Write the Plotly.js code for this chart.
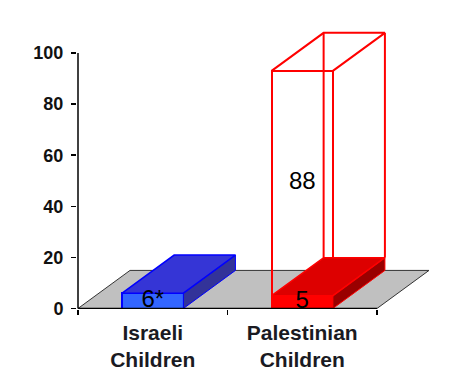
<!DOCTYPE html>
<html>
<head>
<meta charset="utf-8">
<script src="https://cdn.plot.ly/plotly-3.0.1.min.js"></script>
<style>html,body{margin:0;padding:0;background:#fff;}#chart{width:450px;height:390px;}</style>
</head>
<body>
<div id="chart"></div>
<script>
// ---- data ----
var categories = ['Israeli<br>Children', 'Palestinian<br>Children'];
var solidValues = [6, 5];          // filled lower segment
var outlineValues = [null, 88];    // hollow upper segment
var solidLabels = ['6*', '5'];
var outlineLabels = ['', '88'];
var yTickVals = [0, 20, 40, 60, 80, 100];

// ---- style / geometry constants ----
var catPos = [0, 1];
var barW = 0.41;
var dx = 0.348, dy = 14.9;   // projected depth offset
var frontColors = ['#3366FF', '#FF0000'];
var topColors = ['#3535D6', '#DD0000'];
var sideColors = ['#333399', '#990000'];
var edgeColors = ['#0000FF', '#FF0000'];

var traces = [];
// front faces
traces.push({type:'bar', x:catPos, y:solidValues, width:barW,
  marker:{color:frontColors, line:{color:edgeColors, width:1.5}},
  hoverinfo:'skip', showlegend:false});
traces.push({type:'bar', x:catPos, y:outlineValues, width:barW,
  marker:{color:'rgba(0,0,0,0)', line:{color:'#FF0000', width:2}},
  hoverinfo:'skip', showlegend:false});

// 3D top and side faces for the solid segments
catPos.forEach(function(c, i){
  var l = c - barW/2, r = c + barW/2, t = solidValues[i], b = 0;
  traces.push({type:'scatter', mode:'lines', fill:'toself',
    x:[r, r, r+dx, r+dx, r], y:[b, t, t+dy, b+dy, b],
    fillcolor:sideColors[i], line:{color:edgeColors[i], width:1},
    hoverinfo:'skip', showlegend:false});
  traces.push({type:'scatter', mode:'lines', fill:'toself',
    x:[l, r, r+dx, l+dx, l], y:[t, t, t+dy, t+dy, t],
    fillcolor:topColors[i], line:{color:edgeColors[i], width:1.5},
    hoverinfo:'skip', showlegend:false});
});

// wireframe of the hollow segments
catPos.forEach(function(c, i){
  if (outlineValues[i] == null) return;
  var l = c - barW/2, r = c + barW/2, b = solidValues[i], t = b + outlineValues[i];
  traces.push({type:'scatter', mode:'lines',
    x:[l, l+dx, r+dx, r, null, l+dx, l+dx, null, r+dx, r+dx],
    y:[t, t+dy, t+dy, t, null, t+dy, b+dy, null, t+dy, b+dy],
    line:{color:'#FF0000', width:2}, connectgaps:false,
    hoverinfo:'skip', showlegend:false});
});

// value labels
var lx = [], ly = [], lt = [];
catPos.forEach(function(c, i){
  lx.push(c); ly.push(solidValues[i]/2); lt.push(solidLabels[i]);
  if (outlineValues[i] != null) {
    lx.push(c); ly.push(solidValues[i] + outlineValues[i]/2); lt.push(outlineLabels[i]);
  }
});
traces.push({type:'scatter', mode:'text', x:lx, y:ly, text:lt,
  textfont:{family:'Liberation Sans, Arial, sans-serif', size:24, color:'#000'},
  textposition:'middle center', cliponaxis:false, hoverinfo:'skip', showlegend:false});

var xMin = -0.5, xMax = 1.5, yMax = yTickVals[yTickVals.length-1];
var shapes = [
  // floor
  {type:'path', layer:'below', xref:'x', yref:'y',
   path:'M'+xMin+',0 L'+xMax+',0 L'+(xMax+dx)+','+dy+' L'+(xMin+dx)+','+dy+' Z',
   fillcolor:'#C0C0C0', line:{color:'#333333', width:1}},
  // axis lines
  {type:'line', layer:'above', xref:'x', yref:'y', x0:xMin, x1:xMax, y0:0, y1:0,
   line:{color:'#000', width:1.5}},
  {type:'line', layer:'above', xref:'x', yref:'y', x0:xMin, x1:xMin, y0:0, y1:yMax,
   line:{color:'#000', width:1.5}}
];

var layout = {
  width:450, height:390, autosize:false,
  margin:{l:77, r:18, t:25, b:81, pad:0},
  paper_bgcolor:'#fff', plot_bgcolor:'#fff',
  barmode:'stack', bargap:0,
  shapes:shapes,
  xaxis:{type:'linear', range:[-0.5067, 1.868], showgrid:false, zeroline:false, showline:false,
    tickmode:'array', tickvals:catPos, ticktext:categories, ticks:'',
    ticklabelstandoff:9,
    tickfont:{family:'Liberation Sans, Arial, sans-serif', size:21, weight:'bold', color:'#1a1a22'},
    minor:{tickmode:'array', tickvals:[-0.5, 0.5, 1.5], ticks:'outside', ticklen:5, tickwidth:1.5, tickcolor:'#000', showgrid:false}},
  yaxis:{range:[-0.2, 110.96], showgrid:false, zeroline:false, showline:false,
    tickmode:'array', tickvals:yTickVals, ticks:'outside', ticklen:5, tickwidth:1.5, tickcolor:'#000',
    ticklabelstandoff:4,
    tickfont:{family:'Liberation Sans, Arial, sans-serif', size:18, weight:'bold', color:'#111'}}
};

Plotly.newPlot('chart', traces, layout, {staticPlot:true, displayModeBar:false});
</script>
</body>
</html>
